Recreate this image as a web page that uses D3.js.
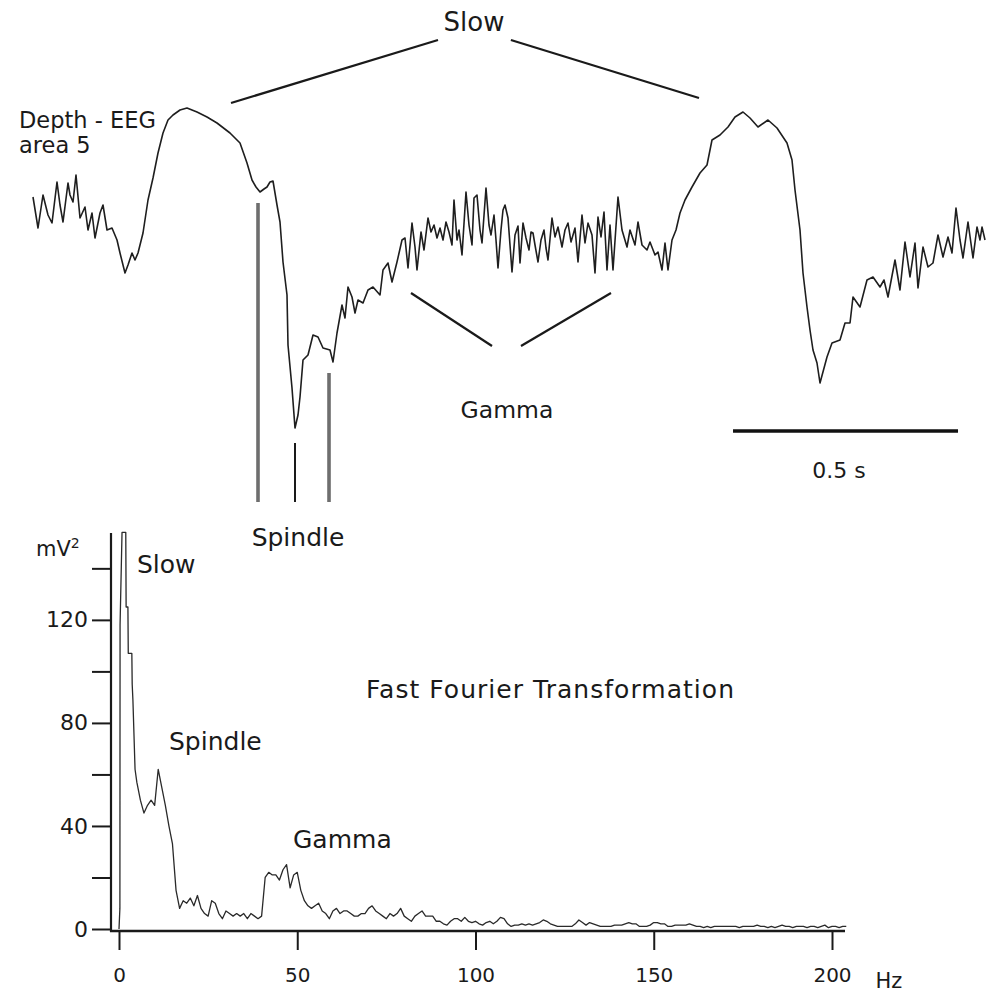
<!DOCTYPE html>
<html><head><meta charset="utf-8">
<script src="https://cdn.jsdelivr.net/npm/d3@7"></script>
<style>
html,body{margin:0;padding:0;background:#fff;}
svg text{font-family:"DejaVu Sans",sans-serif;fill:#1a1a1a;}
</style></head>
<body><svg id="c" width="991" height="993"></svg>
<script>
// ---- Top trace: depth EEG, area 5 (sampled at 450 Hz, amplitude in µV, arbitrary offset)
const eegSampleRate = 450;
const eegSample = [0,5,10,15,19,24,27,30,35,37,40,43,47,52,55,59,62,67,70,74,79,84,87,92,95,99,102,105,110,115,120,125,130,135,140,147,154,164,174,184,197,207,214,219,223,227,231,234,237,240,244,247,250,254,255,259,262,265,267,270,275,280,285,290,297,300,304,309,312,315,319,322,325,330,335,340,347,350,355,359,364,369,372,375,379,382,384,388,391,395,398,401,404,407,410,413,416,419,421,424,426,429,433,436,439,441,444,447,449,453,456,458,461,463,465,468,470,472,475,477,479,482,485,487,490,493,496,498,500,502,505,508,511,513,515,519,522,525,529,532,535,538,542,545,549,552,555,559,562,565,568,571,574,577,580,585,589,594,597,602,605,609,614,617,622,625,629,632,635,639,643,647,652,659,667,674,679,687,695,702,710,717,725,735,744,754,759,762,767,770,774,777,780,784,787,794,799,807,812,817,820,827,834,840,847,851,855,862,867,872,877,882,885,890,895,900,905,910,915,919,923,927,930,935,940,944,947,949,952];
const eegMicroV = [430,120,450,250,170,580,350,180,570,450,380,650,220,330,100,270,20,270,350,100,120,0,-130,-330,-250,-130,-200,-130,70,400,620,870,1070,1200,1250,1300,1320,1280,1230,1170,1070,970,770,600,530,480,510,530,580,590,350,180,-220,-550,-1050,-1480,-1880,-1750,-1570,-1200,-1150,-950,-970,-1080,-1100,-1220,-930,-650,-780,-470,-570,-730,-600,-630,-500,-470,-550,-300,-230,-420,-220,0,20,-280,170,-70,-300,80,-100,220,80,150,20,120,0,180,80,-50,400,0,100,-150,480,150,-50,420,450,100,-30,520,150,50,250,0,-280,100,300,350,220,-50,-320,50,140,-230,170,20,-100,80,70,-50,-220,0,100,-80,-200,220,30,130,-70,100,170,-20,120,-220,250,-30,170,50,-330,230,30,280,-300,150,-300,430,100,-70,100,-50,180,-50,-100,-20,-150,-120,-300,-30,-300,0,100,270,400,530,670,750,1000,1050,1130,1230,1280,1220,1130,1200,1120,970,800,500,100,-330,-670,-900,-1100,-1230,-1430,-1170,-1030,-1000,-830,-830,-570,-670,-400,-370,-470,-400,-570,-200,-500,-20,-370,-30,-480,-70,-270,-230,50,-170,30,-130,320,0,-180,180,-180,130,0,130,0];

// ---- Bottom: FFT power spectrum (mV²); fine steps below 5 Hz, then 1 Hz bins
const fftHz = [0,0.25,0.3,0.85,1.9,2,2.5,2.6,3.6,3.7,3.9,4.5].concat(d3.range(5, 205));
const fftPower = [0,8,118,154,154,125,125,107,107,95,89,62,
  57,50,45,48,50,48,62,55,48,40,33,15,8,11,10,12,9,13,8,6,5,11,10,6,4,7,6,5,6,5,6,4,6,5,4,5,20,22,21,21,19,23,25,16,21,22,15,11,9,8,9,10,7,6,4,7,8,6,7,7,6,5,5,6,6,8,9,7,6,5,4,6,5,6,8,5,4,3,5,6,7,5,5,5,3,3,2,1.5,3,4,4,3,4.5,3,2.5,3,2,1.5,2.5,3,2,3,4.5,4,2,1,1.5,1.5,2,1.5,2,1.5,2,2.5,3.5,3,2,1.5,1,1,1,1,1,2,3.5,2.5,1.5,2.5,2,1.5,1,1,1,1,1.5,1.5,1.5,2,2.5,2,2,1,1,1,1.5,2.5,2.5,2,2,1,1,1.5,1.5,1.5,1.5,2,1.5,1,1,0.5,1,0.5,1,1,1,1,1,1,1,0.5,1,1,1,1,1.5,1,1,0.5,1,0.5,1,1.5,1,1,0.5,1,1,1,0.5,1,1,0.5,1,1.5,0.5,1,1,0.5,1,1];
const yTickValues = [0,20,40,60,80,100,120,140];
const yTickLabels = ["0","","40","","80","","120",""];
const xTickValues = [0,50,100,150,200];
const xTickLabels = ["0","50","100","150","200"];

const svg = d3.select("#c");

// ===== top panel =====
const xT = d3.scaleLinear().domain([0, 2]).range([33, 933]);
const yT = d3.scaleLinear().domain([-2000, 1400]).range([440, 100]);
const eeg = eegSample.map((s,i)=>({t:s/eegSampleRate, v:eegMicroV[i]}));
svg.append("path").datum(eeg)
  .attr("fill","none").attr("stroke","#1e1e1e").attr("stroke-width",1.6)
  .attr("stroke-linejoin","round")
  .attr("d", d3.line().x(d=>xT(d.t)).y(d=>yT(d.v)));

function seg(t1,v1,t2,v2,color,w){
  svg.append("line").attr("x1",xT(t1)).attr("y1",yT(v1)).attr("x2",xT(t2)).attr("y2",yT(v2))
    .attr("stroke",color).attr("stroke-width",w);
}
// Slow annotation
seg(0.44,1370,0.90,2000,"#1a1a1a",2.2);
seg(1.062,2000,1.48,1420,"#1a1a1a",2.2);
svg.append("text").attr("x",474).attr("y",31).attr("text-anchor","middle").attr("font-size",26).text("Slow");
// Gamma annotation
seg(0.84,-530,1.02,-1060,"#1a1a1a",2.2);
seg(1.2844,-530,1.0844,-1060,"#1a1a1a",2.2);
svg.append("text").attr("x",507).attr("y",418).attr("text-anchor","middle").attr("font-size",23.5).text("Gamma");
// Spindle markers
seg(0.5,370,0.5,-2620,"#6e6e6e",3.6);
seg(0.5822,-2030,0.5822,-2620,"#1a1a1a",2);
seg(0.6578,-1330,0.6578,-2620,"#6e6e6e",3.6);
svg.append("text").attr("x",298).attr("y",546).attr("text-anchor","middle").attr("font-size",25).text("Spindle");
// scale bar 0.5 s
seg(1.5556,-1910,2.0556,-1910,"#111",3.5);
svg.append("text").attr("x",839).attr("y",478).attr("text-anchor","middle").attr("font-size",22).text("0.5 s");
// Label
svg.append("text").attr("x",19).attr("y",128).attr("font-size",22.5).text("Depth - EEG");
svg.append("text").attr("x",19).attr("y",153).attr("font-size",22.5).text("area 5");

// ===== bottom panel =====
const xF = d3.scaleLinear().domain([0, 200]).range([119, 832]);
const yF = d3.scaleLinear().domain([0, 154.5]).range([929, 531]);

svg.append("path").datum(fftHz.map((f,i)=>({f, p:fftPower[i]})))
  .attr("fill","none").attr("stroke","#2a2a2a").attr("stroke-width",1.3)
  .attr("stroke-linejoin","round")
  .attr("d", d3.line().x(d=>xF(d.f)).y(d=>yF(d.p)));

// y axis
const yAxisG = svg.append("g").attr("transform","translate(111,0)")
  .call(d3.axisLeft(yF).tickValues(yTickValues).tickFormat((d,i)=>yTickLabels[i]).tickSize(19).tickPadding(4).tickSizeOuter(0));
yAxisG.select(".domain").remove();
yAxisG.selectAll(".tick line").attr("stroke","#1a1a1a").attr("stroke-width",2);
yAxisG.selectAll(".tick text").attr("font-size",22).attr("font-family","DejaVu Sans").attr("fill","#1a1a1a");
svg.append("line").attr("x1",111).attr("x2",111).attr("y1",533).attr("y2",932).attr("stroke","#1a1a1a").attr("stroke-width",2.2);

// x axis
const xAxisG = svg.append("g").attr("transform","translate(0,931)")
  .call(d3.axisBottom(xF).tickValues(xTickValues).tickFormat((d,i)=>xTickLabels[i]).tickSize(19).tickPadding(18).tickSizeOuter(0));
xAxisG.select(".domain").remove();
xAxisG.selectAll(".tick line").attr("stroke","#1a1a1a").attr("stroke-width",2);
xAxisG.selectAll(".tick text").attr("font-size",20).attr("font-family","DejaVu Sans").attr("fill","#1a1a1a");
svg.append("line").attr("x1",110).attr("x2",845).attr("y1",931).attr("y2",931).attr("stroke","#1a1a1a").attr("stroke-width",2.4);

svg.append("text").attr("x",889).attr("y",988).attr("text-anchor","middle").attr("font-size",21).text("Hz");
const mv = svg.append("text").attr("x",36).attr("y",556).attr("font-size",21);
mv.append("tspan").text("mV");
mv.append("tspan").attr("font-size",14).attr("dy",-8).text("2");

svg.append("text").attr("x",137).attr("y",573).attr("font-size",25).text("Slow");
svg.append("text").attr("x",169).attr("y",750).attr("font-size",25).text("Spindle");
svg.append("text").attr("x",293).attr("y",848).attr("font-size",25).text("Gamma");
svg.append("text").attr("x",366).attr("y",698).attr("font-size",25)
  .attr("textLength",368).attr("lengthAdjust","spacing").text("Fast Fourier Transformation");
</script></body></html>
